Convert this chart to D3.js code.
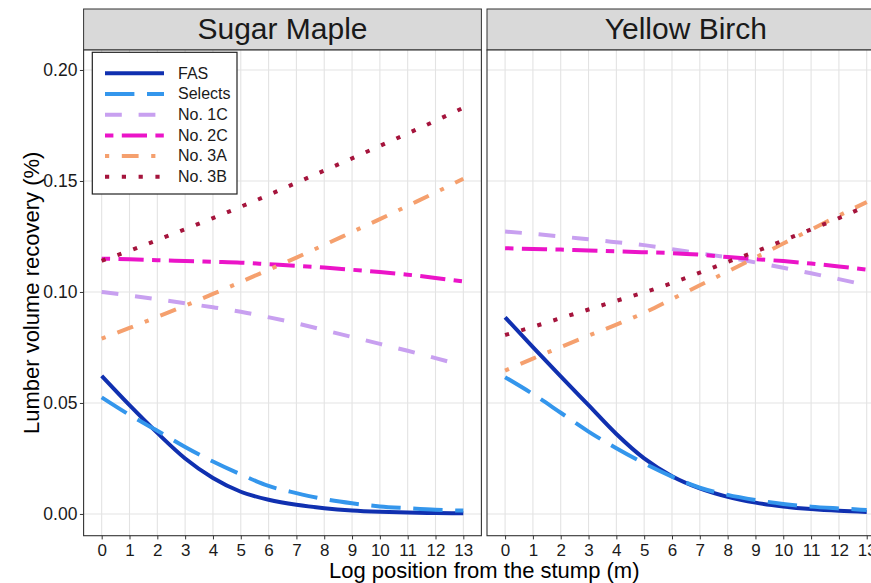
<!DOCTYPE html>
<html>
<head>
<meta charset="utf-8">
<script src="https://cdn.jsdelivr.net/npm/d3@7/dist/d3.min.js"></script>
<style>
  body { margin: 0; background: #fff; }
  svg { display: block; font-family: "Liberation Sans", Arial, Helvetica, sans-serif; }
</style>
</head>
<body>
<svg id="chart" width="871" height="583"></svg>
<script>
// ---- data ----
const positions = [0, 1, 2, 3, 4, 5, 6, 7, 8, 9, 10, 11, 12, 13];
const species = ["Sugar Maple", "Yellow Birch"];
const grades = ["FAS", "Selects", "No. 1C", "No. 2C", "No. 3A", "No. 3B"];
const yTicks = [0, 0.05, 0.10, 0.15, 0.20];

const sugarFAS     = [0.0622, 0.0490, 0.0365, 0.0250, 0.0162, 0.0100, 0.0064, 0.0041, 0.0026, 0.0016, 0.0010, 0.0006, 0.0004, 0.0003];
const sugarSelects = [0.0525, 0.0446, 0.0375, 0.0302, 0.0236, 0.0178, 0.0126, 0.0094, 0.0067, 0.0048, 0.0034, 0.0026, 0.0019, 0.0015];
const sugar1C      = [0.1000, 0.0984, 0.0967, 0.0949, 0.0931, 0.0911, 0.0886, 0.0859, 0.0828, 0.0797, 0.0766, 0.0735, 0.0702, 0.0668];
const sugar2C      = [0.1150, 0.1147, 0.1143, 0.1140, 0.1136, 0.1132, 0.1125, 0.1118, 0.1110, 0.1100, 0.1090, 0.1078, 0.1063, 0.1047];
const sugar3A      = [0.0790, 0.0838, 0.0888, 0.0938, 0.0991, 0.1045, 0.1100, 0.1155, 0.1212, 0.1270, 0.1328, 0.1388, 0.1448, 0.1510];
const sugar3B      = [0.1140, 0.1186, 0.1234, 0.1283, 0.1333, 0.1384, 0.1437, 0.1492, 0.1547, 0.1602, 0.1658, 0.1714, 0.1771, 0.1830];

const birchFAS     = [0.0886, 0.0752, 0.0620, 0.0490, 0.0360, 0.0250, 0.0170, 0.0115, 0.0077, 0.0051, 0.0034, 0.0022, 0.0014, 0.0009];
const birchSelects = [0.0616, 0.0540, 0.0456, 0.0371, 0.0296, 0.0228, 0.0168, 0.0118, 0.0086, 0.0063, 0.0045, 0.0033, 0.0025, 0.0018];
const birch1C      = [0.1272, 0.1262, 0.1250, 0.1237, 0.1224, 0.1211, 0.1193, 0.1174, 0.1156, 0.1133, 0.1109, 0.1084, 0.1058, 0.1030];
const birch2C      = [0.1197, 0.1194, 0.1191, 0.1187, 0.1183, 0.1179, 0.1175, 0.1168, 0.1157, 0.1148, 0.1139, 0.1128, 0.1115, 0.1100];
const birch3A      = [0.0646, 0.0700, 0.0752, 0.0803, 0.0853, 0.0906, 0.0968, 0.1030, 0.1092, 0.1155, 0.1218, 0.1281, 0.1344, 0.1405];
const birch3B      = [0.0806, 0.0843, 0.0882, 0.0921, 0.0960, 0.0998, 0.1040, 0.1087, 0.1135, 0.1182, 0.1232, 0.1282, 0.1333, 0.1388];

const seriesBySpecies = {
  "Sugar Maple": [sugarFAS, sugarSelects, sugar1C, sugar2C, sugar3A, sugar3B],
  "Yellow Birch": [birchFAS, birchSelects, birch1C, birch2C, birch3A, birch3B]
};

// ---- styles ----
const colors = ["#1030b0", "#3496ec", "#c8a0f0", "#eb14c8", "#f5a06e", "#a5143c"];
const u = 4.2; // R scales dash patterns by line width
const dashes = [null, [7, 3], [4, 4], [2, 2, 6, 2], [1, 3, 4, 3], [1, 3]]
  .map(p => p ? p.map(v => v * u).join(" ") : null);
const lineW = 4;

const svg = d3.select("#chart");
const panelTop = 50, panelBottom = 535.7, stripTop = 9;
const panelW = 397.8;
const panelLefts = [83.6, 487];

const y = d3.scaleLinear().domain([-0.0098, 0.209]).range([panelBottom, panelTop]);

species.forEach((sp, i) => {
  const x0 = panelLefts[i];
  const x = d3.scaleLinear().domain([-0.65, 13.65]).range([x0, x0 + panelW]);
  const g = svg.append("g");

  // strip
  g.append("rect").attr("x", x0).attr("y", stripTop).attr("width", panelW).attr("height", panelTop - stripTop)
    .attr("fill", "#d9d9d9").attr("stroke", "#333").attr("stroke-width", 1);
  g.append("text").attr("x", x0 + panelW / 2).attr("y", 39).attr("text-anchor", "middle")
    .attr("font-size", 30).attr("fill", "#1a1a1a").text(sp);

  // panel background + grid
  g.append("rect").attr("x", x0).attr("y", panelTop).attr("width", panelW).attr("height", panelBottom - panelTop)
    .attr("fill", "#fff");
  g.selectAll(".vgrid").data(positions).enter().append("line")
    .attr("x1", d => x(d)).attr("x2", d => x(d)).attr("y1", panelTop).attr("y2", panelBottom)
    .attr("stroke", "#e3e3e3").attr("stroke-width", 1.1);
  g.selectAll(".hgrid").data(yTicks).enter().append("line")
    .attr("x1", x0).attr("x2", x0 + panelW).attr("y1", d => y(d)).attr("y2", d => y(d))
    .attr("stroke", "#e3e3e3").attr("stroke-width", 1.1);

  // curves
  const clipId = "clip" + i;
  svg.append("clipPath").attr("id", clipId).append("rect")
    .attr("x", x0).attr("y", panelTop).attr("width", panelW).attr("height", panelBottom - panelTop);
  const line = d3.line().x((d, k) => x(positions[k])).y(d => y(d)).curve(d3.curveMonotoneX);
  const lines = g.append("g").attr("clip-path", `url(#${clipId})`);
  seriesBySpecies[sp].forEach((vals, k) => {
    lines.append("path").attr("d", line(vals)).attr("fill", "none")
      .attr("stroke", colors[k]).attr("stroke-width", lineW)
      .attr("stroke-dasharray", dashes[k]).attr("stroke-linecap", "butt");
  });

  // border
  g.append("rect").attr("x", x0).attr("y", panelTop).attr("width", panelW).attr("height", panelBottom - panelTop)
    .attr("fill", "none").attr("stroke", "#333").attr("stroke-width", 1.1);

  // x axis
  const xa = g.append("g").attr("transform", `translate(0,${panelBottom})`)
    .call(d3.axisBottom(x).tickValues(positions).tickSize(3.7).tickPadding(4.2));
  xa.select(".domain").remove();
  xa.selectAll("line").attr("stroke", "#333");
  xa.selectAll("text").attr("font-size", 17).attr("fill", "#1a1a1a").attr("font-family", null);

  if (i === 0) {
    const ya = g.append("g").attr("transform", `translate(${x0},0)`)
      .call(d3.axisLeft(y).tickValues(yTicks).tickFormat(d3.format(".2f")).tickSize(3.7).tickPadding(2.5));
    ya.select(".domain").remove();
    ya.selectAll("line").attr("stroke", "#333");
    ya.selectAll("text").attr("font-size", 17.5).attr("fill", "#1a1a1a").attr("font-family", null);
  }
});

// axis titles
svg.append("text").attr("x", (panelLefts[0] + panelLefts[1] + panelW) / 2).attr("y", 578)
  .attr("text-anchor", "middle").attr("font-size", 22).attr("fill", "#000")
  .text("Log position from the stump (m)");
svg.append("text").attr("transform", `translate(38.5,${(panelTop + panelBottom) / 2}) rotate(-90)`)
  .attr("text-anchor", "middle").attr("font-size", 22).attr("fill", "#000")
  .text("Lumber volume recovery (%)");

// legend
const leg = svg.append("g");
leg.append("rect").attr("x", 92.3).attr("y", 52.3).attr("width", 144.7).attr("height", 141.7)
  .attr("fill", "#fff").attr("stroke", "#222").attr("stroke-width", 1.2);
grades.forEach((gr, k) => {
  const cy = 73.3 + 20.7 * k;
  leg.append("line").attr("x1", 105).attr("x2", 164).attr("y1", cy).attr("y2", cy)
    .attr("stroke", colors[k]).attr("stroke-width", lineW).attr("stroke-dasharray", dashes[k]);
  leg.append("text").attr("x", 178).attr("y", cy).attr("dy", "0.33em")
    .attr("font-size", 16).attr("fill", "#1a1a1a").text(gr);
});
</script>
</body>
</html>
